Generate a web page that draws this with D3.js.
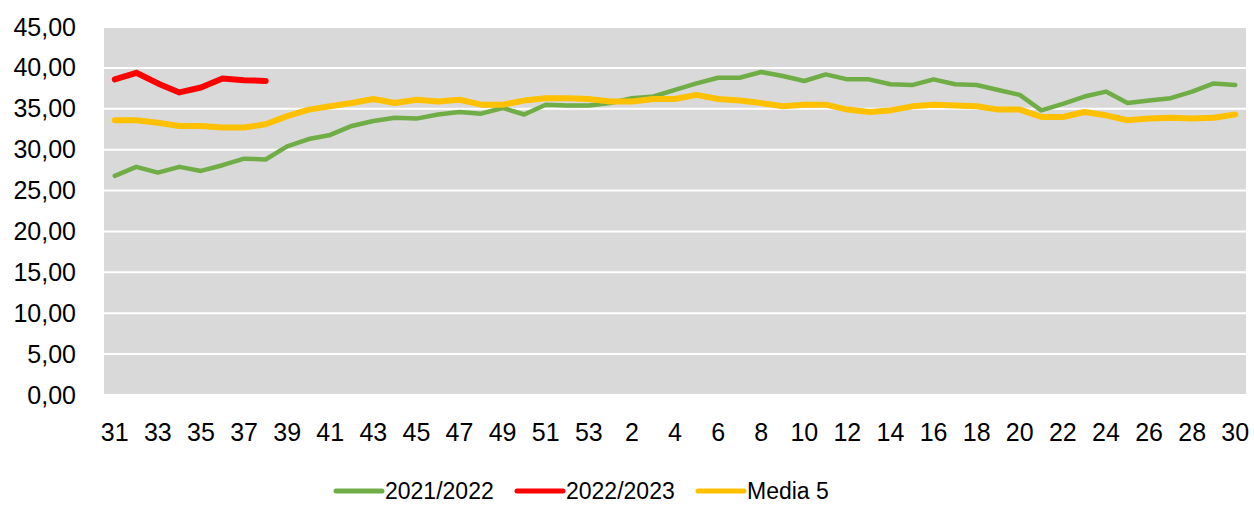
<!DOCTYPE html>
<html>
<head>
<meta charset="utf-8">
<script src="https://cdn.jsdelivr.net/npm/d3@7"></script>
<style>
  body { margin: 0; background: #fff; }
  text { font-family: "Liberation Sans", Arial, sans-serif; fill: #000; }
</style>
</head>
<body>
<script>
// weeks from 31 to 53 then 1 to 30
var weeks = ["31","32","33","34","35","36","37","38","39","40","41","42","43","44","45","46","47","48","49","50","51","52","53",
  "1","2","3","4","5","6","7","8","9","10","11","12","13","14","15","16","17","18","19","20","21","22","23","24","25","26","27","28","29","30"];

var s2122 = [26.8, 27.9, 27.2, 27.9, 27.4, 28.1, 28.9, 28.8, 30.4, 31.3, 31.8, 32.9, 33.5, 33.9, 33.8, 34.3, 34.6, 34.4, 35.1, 34.3, 35.5, 35.4, 35.4,
  35.7, 36.3, 36.5, 37.3, 38.1, 38.8, 38.8, 39.5, 39.0, 38.4, 39.2, 38.6, 38.6, 38.0, 37.9, 38.6, 38.0, 37.9, 37.3, 36.7, 34.8, 35.6, 36.5, 37.1, 35.7, 36.0, 36.3, 37.1, 38.1, 37.9];

var s2223 = [38.6, 39.4, 38.1, 37.0, 37.6, 38.7, 38.5, 38.4];

var media5 = [33.6, 33.6, 33.3, 32.9, 32.9, 32.7, 32.7, 33.1, 34.1, 34.9, 35.3, 35.7, 36.2, 35.7, 36.1, 35.9, 36.1, 35.5, 35.5, 36.0, 36.3, 36.3, 36.2,
  35.9, 35.9, 36.2, 36.2, 36.7, 36.2, 36.0, 35.7, 35.3, 35.5, 35.5, 34.9, 34.6, 34.8, 35.3, 35.5, 35.4, 35.3, 34.9, 34.9, 34.0, 34.0, 34.6, 34.2, 33.6, 33.8, 33.9, 33.8, 33.9, 34.3];

var yTicks = [0, 5, 10, 15, 20, 25, 30, 35, 40, 45];

var seriesNames = ["2021/2022", "2022/2023", "Media 5"];
var seriesColors = ["#70AD47", "#FF0000", "#FFC000"];
var seriesWidths = [4.5, 6, 6];

var width = 1254, height = 505;
var margin = {top: 27, right: 8, bottom: 110, left: 104};
var w = width - margin.left - margin.right,
    h = height - margin.top - margin.bottom;

var svg = d3.select("body").append("svg")
    .attr("width", width)
    .attr("height", height);

var g = svg.append("g")
    .attr("transform", "translate(" + margin.left + "," + margin.top + ")");

var x = d3.scaleBand().domain(weeks).range([0, w]);
var y = d3.scaleLinear().domain([0, 45]).range([h, 0]);

// plot background
g.append("rect")
    .attr("width", w)
    .attr("height", h)
    .attr("fill", "#D9D9D9");

// gridlines
g.append("g")
    .selectAll("line")
    .data(yTicks)
  .enter().append("line")
    .attr("x1", 0)
    .attr("x2", w)
    .attr("y1", function(d) { return y(d); })
    .attr("y2", function(d) { return y(d); })
    .attr("stroke", "#fff")
    .attr("stroke-width", 2);

// y axis
var yAxis = g.append("g")
    .call(d3.axisLeft(y).tickValues(yTicks).tickSize(0).tickPadding(28)
      .tickFormat(function(d) { return d3.format(".2f")(d).replace(".", ","); }));
yAxis.select(".domain").remove();
yAxis.selectAll("text").style("font-size", "25px");

// x axis, every other label
var xAxis = g.append("g")
    .attr("transform", "translate(0," + h + ")")
    .call(d3.axisBottom(x).tickSize(0).tickPadding(28)
      .tickValues(weeks.filter(function(d, i) { return i % 2 === 0; })));
xAxis.select(".domain").remove();
xAxis.selectAll("text").style("font-size", "25px");

var line = d3.line()
    .x(function(d, i) { return x(weeks[i]) + x.bandwidth() / 2; })
    .y(function(d) { return y(d); });

var allSeries = [s2122, s2223, media5];

// draw order: green, red, yellow
g.selectAll(".serie")
    .data(allSeries)
  .enter().append("path")
    .attr("class", "serie")
    .attr("d", line)
    .attr("fill", "none")
    .attr("stroke", function(d, i) { return seriesColors[i]; })
    .attr("stroke-width", function(d, i) { return seriesWidths[i]; })
    .attr("stroke-linejoin", "round")
    .attr("stroke-linecap", "round");

// legend
var legendX = [336, 517, 698];
var legend = svg.append("g")
    .selectAll("g")
    .data(seriesNames)
  .enter().append("g")
    .attr("transform", function(d, i) { return "translate(" + legendX[i] + ",491)"; });

legend.append("line")
    .attr("x1", 0)
    .attr("x2", 46)
    .attr("stroke", function(d, i) { return seriesColors[i]; })
    .attr("stroke-width", 5)
    .attr("stroke-linecap", "round");

legend.append("text")
    .attr("x", 49)
    .attr("dy", "0.36em")
    .style("font-size", "23px")
    .text(function(d) { return d; });
</script>
</body>
</html>
